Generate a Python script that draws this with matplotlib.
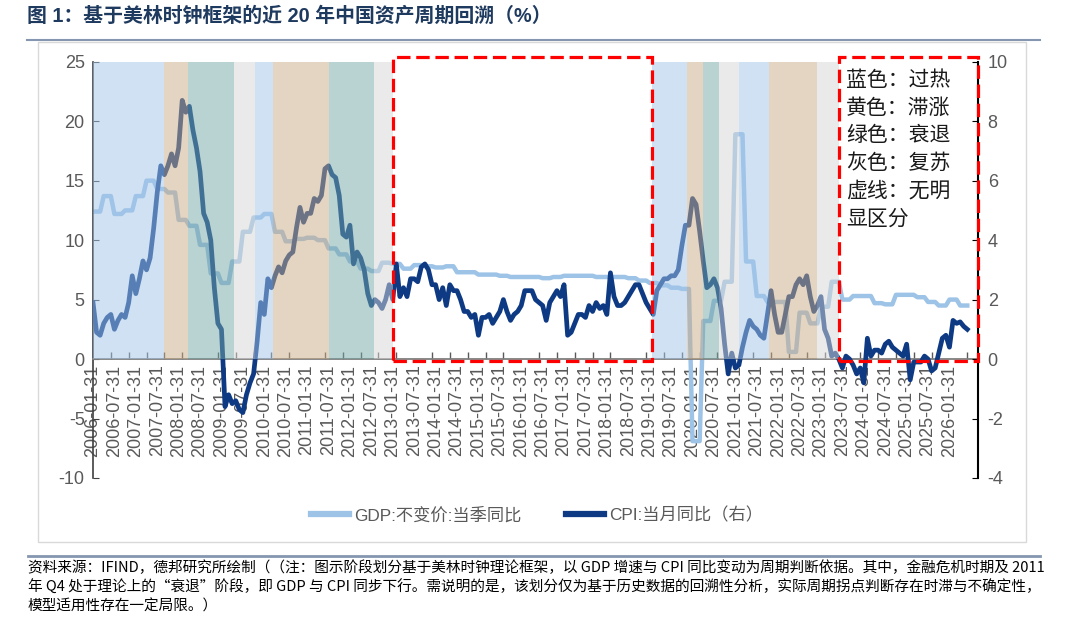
import numpy as np
import pandas as pd
import matplotlib
matplotlib.use('Agg')
import matplotlib.pyplot as plt
from matplotlib.patches import Rectangle
from matplotlib.lines import Line2D

plt.rcParams['font.family'] = ['Liberation Sans', 'Noto Sans CJK SC', 'DejaVu Sans']
plt.rcParams['axes.unicode_minus'] = False

# monthly category axis, 2006-01 .. 2026-06
months = pd.date_range('2006-01-31', '2026-06-30', freq='ME')

# GDP constant price, quarterly YoY (%)
gdp_q = [12.4, 13.7, 12.2, 12.5,
         13.7, 15.0, 14.3, 14.0,
         11.7, 11.2, 9.6, 7.2,
         6.4, 8.2, 10.7, 11.9,
         12.2, 10.7, 9.9, 10.1,
         10.2, 10.0, 9.3, 8.8,
         8.2, 7.6, 7.4, 8.1,
         8.0, 7.6, 7.9, 7.8,
         7.7, 7.8, 7.3, 7.3,
         7.1, 7.1, 7.0, 6.9,
         6.9, 6.9, 6.8, 6.9,
         7.0, 7.0, 7.0, 6.9,
         6.9, 6.9, 6.8, 6.6,
         6.4, 6.2, 6.0, 5.9,
         -6.9, 3.2, 4.9, 6.5,
         18.9, 8.2, 5.3, 4.8,
         4.8, 0.6, 3.9, 3.0,
         4.4, 6.5, 5.0, 5.3,
         5.3, 4.7, 4.6, 5.4,
         5.4, 5.2, 4.8, 4.5,
         5.0, 4.5]

# CPI monthly YoY (%), right axis
cpi = [1.9, 0.9, 0.8, 1.2, 1.4, 1.5, 1.0, 1.3, 1.5, 1.4, 1.9, 2.8,
       2.2, 2.7, 3.3, 3.0, 3.4, 4.4, 5.6, 6.5, 6.2, 6.5, 6.9, 6.5,
       7.1, 8.7, 8.3, 8.5, 7.7, 7.1, 6.3, 4.9, 4.6, 4.0, 2.4, 1.2,
       1.0, -1.6, -1.2, -1.5, -1.4, -1.7, -1.8, -1.2, -0.8, -0.5, 0.6, 1.9,
       1.5, 2.7, 2.4, 2.8, 3.1, 2.9, 3.3, 3.5, 3.6, 4.4, 5.1, 4.6,
       4.9, 4.9, 5.4, 5.3, 5.5, 6.4, 6.5, 6.2, 6.1, 5.5, 4.2, 4.1,
       4.5, 3.2, 3.6, 3.4, 3.0, 2.2, 1.8, 2.0, 1.9, 1.7, 2.0, 2.5,
       2.0, 3.2, 2.1, 2.4, 2.1, 2.7, 2.7, 2.6, 3.1, 3.2, 3.0, 2.5,
       2.5, 2.0, 2.4, 1.8, 2.5, 2.3, 2.3, 2.0, 1.6, 1.6, 1.4, 1.5,
       0.8, 1.4, 1.4, 1.5, 1.2, 1.4, 1.6, 2.0, 1.6, 1.3, 1.5, 1.6,
       1.8, 2.3, 2.3, 2.3, 2.0, 1.9, 1.8, 1.3, 1.9, 2.1, 2.3, 2.1,
       2.5, 0.8, 0.9, 1.2, 1.5, 1.5, 1.4, 1.8, 1.6, 1.9, 1.7, 1.8,
       1.5, 2.9, 2.1, 1.8, 1.8, 1.9, 2.1, 2.3, 2.5, 2.5, 2.2, 1.9,
       1.7, 1.5, 2.3, 2.5, 2.7, 2.7, 2.8, 2.8, 3.0, 3.8, 4.5, 4.5,
       5.4, 5.2, 4.3, 3.3, 2.4, 2.5, 2.7, 2.4, 1.7, 0.5, -0.5, 0.2,
       -0.3, -0.2, 0.4, 0.9, 1.3, 1.1, 1.0, 0.8, 0.7, 1.5, 2.3, 1.5,
       0.9, 0.9, 1.5, 2.1, 2.1, 2.5, 2.7, 2.5, 2.8, 2.1, 1.6, 1.8,
       2.1, 1.0, 0.7, 0.1, 0.2, 0.0, -0.3, 0.1, 0.0, -0.2, -0.5, -0.3,
       -0.8, 0.7, 0.1, 0.3, 0.3, 0.2, 0.5, 0.6, 0.4, 0.3, 0.2, 0.1,
       0.5, -0.7, -0.1, -0.1, -0.1, 0.1, 0.0, -0.4, -0.3, 0.2, 0.7, 0.8,
       0.4, 1.3, 1.2, 1.25, 1.1, 1.0]

# Merrill Lynch clock phases, in months since 2006-01
phase_start = [0, 20, 26.5, 39.5, 45.5, 50.5, 66, 78.8,
               156.7, 166.4, 170.9, 175.3, 180.9, 189.3, 202.9]
phase_end = [20, 26.5, 39.5, 45.5, 50.5, 66, 78.8, 84.1,
             166.4, 170.9, 175.3, 180.9, 189.3, 202.9, 209.1]
phase_name = ['过热', '滞涨', '衰退', '复苏', '过热', '滞涨', '衰退', '复苏',
              '过热', '滞涨', '衰退', '复苏', '过热', '滞涨', '复苏']
# periods without a clear phase (red dashed boxes)
box_start = [84.1, 209.1]
box_end = [156.7, 248.0]

note_lines = ['蓝色：过热', '黄色：滞涨', '绿色：衰退', '灰色：复苏', '虚线：无明', '显区分']

title = '图 1：基于美林时钟框架的近 20 年中国资产周期回溯（%）'
source_lines = [
    '资料来源：IFIND，德邦研究所绘制（（注：图示阶段划分基于美林时钟理论框架，以 GDP 增速与 CPI 同比变动为周期判断依据。其中，金融危机时期及 2011',
    '年 Q4 处于理论上的“衰退”阶段，即 GDP 与 CPI 同步下行。需说明的是，该划分仅为基于历史数据的回溯性分析，实际周期拐点判断存在时滞与不确定性，',
    '模型适用性存在一定局限。）',
]
source_sizes = [10.55, 10.55, 10.55]

phase_color = {'过热': '#a1c5e9', '滞涨': '#cbad87', '衰退': '#75a7a7', '复苏': '#d7d7d7'}
GDP_COLOR = '#9dc3e6'
CPI_COLOR = '#0e3a84'
GREY = '#595959'
CJK = ['Noto Sans CJK SC', 'DejaVu Sans']

gdp = np.repeat(gdp_q, 3)[:len(months)]
x = np.arange(len(months))

W, H = 1080, 623
fig = plt.figure(figsize=(W / 100, H / 100), dpi=100)


def fx(px):
    return px / W


def fy(py):
    return 1 - py / H


ax = fig.add_axes([fx(93), fy(478), (978 - 93) / W, (478 - 61.7) / H])
ax2 = ax.twinx()
ax.patch.set_visible(False)

ax.plot(x, gdp, color=GDP_COLOR, lw=3.2, zorder=2)
ax2.plot(x, cpi, color=CPI_COLOR, lw=3.4, zorder=2)

# phase bands (semi-transparent, on top of the lines, above zero only)
for s, e, p in zip(phase_start, phase_end, phase_name):
    ax2.fill_between([s, e], 0, 10, color=phase_color[p], alpha=0.5, lw=0, zorder=3)

for s, e in zip(box_start, box_end):
    ax2.add_patch(Rectangle((s, -0.05), e - s, 10.2, fill=False, ec='#ff0000',
                            lw=2.3, ls=(0, (4.2, 1.8)), zorder=6, clip_on=False))

ax.set_xlim(0, 248)
ax.set_ylim(-10, 25)
ax2.set_ylim(-4, 10)

ax.spines['top'].set_visible(False)
ax.spines['right'].set_visible(False)
ax.spines['bottom'].set_position(('data', 0))
ax.spines['bottom'].set_color('#7f7f7f')
ax.spines['bottom'].set_linewidth(1.3)
ax.spines['left'].set_color('#404040')
ax.spines['left'].set_linewidth(1.2)
for side in ['top', 'bottom', 'left']:
    ax2.spines[side].set_visible(False)
ax2.spines['right'].set_color('black')
ax2.spines['right'].set_linewidth(1.5)

ax.set_yticks(range(-10, 26, 5))
ax.tick_params(axis='y', direction='in', length=4, color='#404040',
               labelsize=13, labelcolor=GREY, pad=6)
ax.set_xticks(x[::6])
ax.set_xticklabels(months[::6].strftime('%Y-%m-%d'), rotation=90)
ax.tick_params(axis='x', which='major', length=0, pad=4, labelsize=13, labelcolor=GREY)
ax.set_xticks(np.arange(0, 248, 5), minor=True)
ax.tick_params(axis='x', which='minor', direction='in', length=5, color=GREY, width=1)

ax2.set_yticks(range(-4, 11, 2))
ax2.tick_params(axis='y', direction='in', length=4, color='black',
                labelsize=13, labelcolor=GREY, pad=7)

# phase note inside the right box
for i, line in enumerate(note_lines):
    fig.text(fx(846), fy(80 + i * 27.7), line, fontsize=15, va='center',
             family=CJK, color='#1a1a1a')

# legend
handles = [Line2D([], [], color=GDP_COLOR, lw=4.5), Line2D([], [], color=CPI_COLOR, lw=4.5)]
fig.legend(handles, ['GDP:不变价:当季同比', 'CPI:当月同比（右）'], loc='center',
           bbox_to_anchor=(fx(537), fy(515)), ncol=2, frameon=False,
           prop={'family': ['Liberation Sans', 'Noto Sans CJK SC'], 'size': 12.4},
           handlelength=2.2, handletextpad=0.3, columnspacing=2.6, labelcolor=GREY)

# title, rules, frame and source
fig.text(fx(27), fy(16), title, fontsize=14.3, fontweight='bold', color='#1f3a5f',
         va='center', family=['Liberation Sans', 'Noto Sans CJK SC'])
fig.add_artist(Line2D([fx(27), fx(1040)], [fy(40), fy(40)], color='#8496b0', lw=1.5))
fig.add_artist(Rectangle((fx(38), fy(542)), (1026 - 38) / W, (542 - 42) / H,
                         fill=False, ec='#d9d9d9', lw=1))
fig.add_artist(Line2D([fx(28), fx(1040)], [fy(556), fy(556)], color='#8496b0', lw=2))
for i, line in enumerate(source_lines):
    fig.text(fx(28), fy(568 + i * 19.5), line, fontsize=source_sizes[i], va='center',
             family=CJK, color='black')

fig.savefig('out.png', dpi=100)
